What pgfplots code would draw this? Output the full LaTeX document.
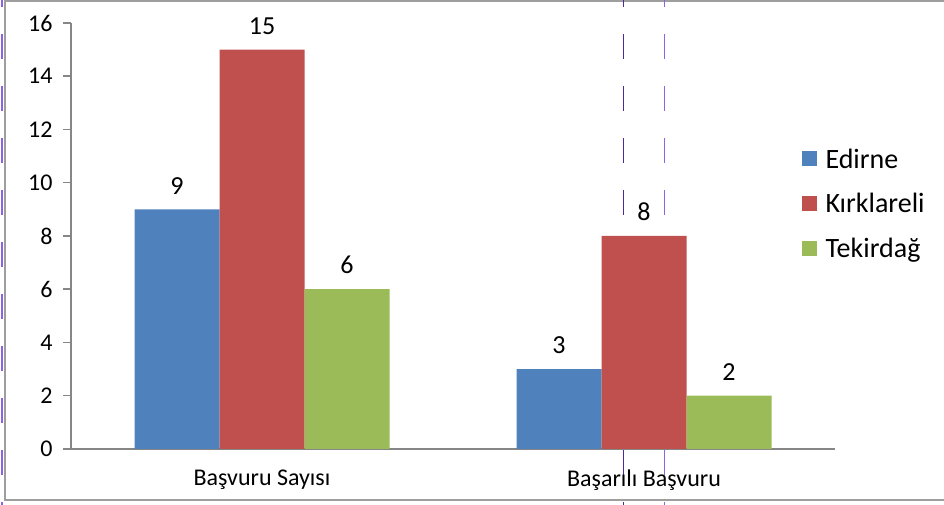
\documentclass[border=0pt]{standalone}
\usepackage{fontspec}
\setmainfont{Carlito}
\usepackage{pgfplots}
\pgfplotsset{compat=1.18}
\definecolor{cB}{HTML}{4F81BD}
\definecolor{cR}{HTML}{C0504D}
\definecolor{cG}{HTML}{9BBB59}
\definecolor{axgray}{HTML}{868686}
\definecolor{dashA}{HTML}{4B2A9E}
\definecolor{dashB}{HTML}{8A63E6}
\begin{document}
\begin{tikzpicture}[x=1bp,y=1bp]
\useasboundingbox (0,0) rectangle (944,505);
% outer frame
\draw[axgray!80,line width=1.2bp] (5,505) -- (5,5) -- (944,5);
\draw[axgray!80,line width=1.2bp] (5,504) -- (944,504);
% decorative dashed guide lines
\draw[dashB,line width=1.2bp,dash pattern=on 25bp off 27bp,dash phase=18bp] (2,505) -- (2,0);
\draw[dashA,line width=1bp,dash pattern=on 25bp off 27bp,dash phase=18bp] (623.5,505) -- (623.5,0);
\draw[dashB,line width=1.2bp,dash pattern=on 25bp off 27bp,dash phase=18bp] (664.5,505) -- (664.5,0);
\begin{axis}[
  at={(71bp,56bp)}, anchor=south west,
  scale only axis, width=764bp, height=426bp,
  xmin=-0.5, xmax=1.5, ymin=0, ymax=16,
  axis lines*=left,
  axis line style={axgray,line width=1.5bp},
  ybar=0pt, bar width=85bp,
  ytick={0,2,...,16},
  xtick={0,1},
  xticklabels={Başvuru Sayısı, Başarılı Başvuru},
  x tick style={draw=none},
  extra x ticks={-0.5,0.5,1.5},
  extra x tick labels={},
  extra x tick style={tick style={draw=axgray,line width=1.5bp}},
  y tick style={draw=axgray,line width=1.5bp},
  tick align=outside,
  major tick length=8bp,
  /pgf/number format/assume math mode=true,
  ticklabel style={text=black},
  yticklabel style={font=\fontsize{24bp}{28bp}\selectfont, xshift=-7bp},
  xticklabel style={font=\fontsize{24bp}{28bp}\selectfont, yshift=-9bp},
  nodes near coords,
  every node near coord/.append style={font=\fontsize{26bp}{30bp}\selectfont, text=black, anchor=south, inner sep=0pt, yshift=15bp},
  legend style={draw=none, fill=none, at={(0.952,0.715)}, anchor=north west,
     font=\fontsize{28bp}{32bp}\selectfont, row sep=20bp,
     /tikz/every odd column/.append style={column sep=7bp}},
  legend cell align=left,
  legend image code/.code={\fill[#1] (0bp,-7bp) rectangle (15bp,8bp);},
  clip=false,
]
\addplot[fill=cB, draw=none] coordinates {(0,9) (1,3)};
\addplot[fill=cR, draw=none] coordinates {(0,15) (1,8)};
\addplot[fill=cG, draw=none] coordinates {(0,6) (1,2)};
\legend{Edirne, Kırklareli, Tekirdağ}
\end{axis}
\end{tikzpicture}
\end{document}
